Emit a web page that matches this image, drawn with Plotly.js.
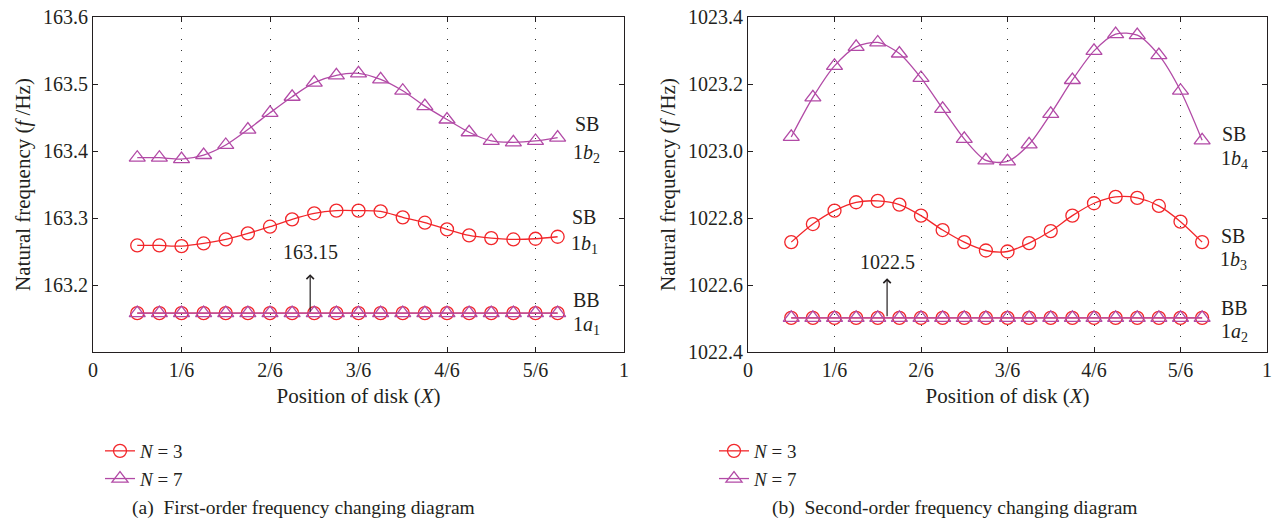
<!DOCTYPE html>
<html>
<head>
<meta charset="utf-8">
<script src="https://cdn.plot.ly/plotly-3.0.1.min.js"></script>
<style>html,body{margin:0;padding:0;background:#fff;}#chart{width:1272px;height:525px;}</style>
</head>
<body>
<div id="chart"></div>
<script>
// Disk positions (fraction of shaft length)
const xPos = [2/24,3/24,4/24,5/24,6/24,7/24,8/24,9/24,10/24,11/24,12/24,13/24,14/24,15/24,16/24,17/24,18/24,19/24,20/24,21/24];
const xTickVals = [0,1/6,2/6,3/6,4/6,5/6,1];
const xTickText = ["0","1/6","2/6","3/6","4/6","5/6","1"];

// (a) First-order
const a_N3_SB = [163.259,163.259,163.258,163.262,163.268,163.277,163.287,163.298,163.307,163.311,163.311,163.310,163.301,163.293,163.283,163.274,163.270,163.268,163.269,163.272];
const a_N7_SB = [163.390,163.390,163.388,163.394,163.409,163.432,163.457,163.481,163.502,163.513,163.516,163.507,163.490,163.467,163.447,163.428,163.415,163.413,163.415,163.420];
const a_N3_BB = [163.158,163.158,163.158,163.158,163.158,163.158,163.158,163.158,163.158,163.158,163.158,163.158,163.158,163.158,163.158,163.158,163.158,163.158,163.158,163.158];
const a_N7_BB = [163.158,163.158,163.158,163.158,163.158,163.158,163.158,163.158,163.158,163.158,163.158,163.158,163.158,163.158,163.158,163.158,163.158,163.158,163.158,163.158];
const a_yTicks = [163.2,163.3,163.4,163.5,163.6];

// (b) Second-order
const b_N3_SB = [1022.728,1022.782,1022.822,1022.847,1022.851,1022.840,1022.807,1022.764,1022.728,1022.703,1022.700,1022.725,1022.761,1022.807,1022.844,1022.863,1022.860,1022.836,1022.789,1022.728];
const b_N7_SB = [1023.042,1023.160,1023.254,1023.311,1023.324,1023.291,1023.218,1023.126,1023.036,1022.972,1022.969,1023.020,1023.111,1023.212,1023.299,1023.349,1023.346,1023.286,1023.180,1023.032];
const b_N3_BB = [1022.502,1022.502,1022.502,1022.502,1022.502,1022.502,1022.502,1022.502,1022.502,1022.502,1022.502,1022.502,1022.502,1022.502,1022.502,1022.502,1022.502,1022.502,1022.502,1022.502];
const b_N7_BB = [1022.502,1022.502,1022.502,1022.502,1022.502,1022.502,1022.502,1022.502,1022.502,1022.502,1022.502,1022.502,1022.502,1022.502,1022.502,1022.502,1022.502,1022.502,1022.502,1022.502];
const b_yTicks = [1022.4,1022.6,1022.8,1023.0,1023.2,1023.4];

const RED = '#f2262a';
const MAG = '#b24aa6';
const INK = '#231f20';
const FONT = 'Liberation Serif';

function tr(y, color, sym, xa, ya, name, show, leg, grp) {
  return {
    x: xPos, y: y, xaxis: xa, yaxis: ya, type: 'scatter', mode: 'lines+markers',
    name: name, showlegend: show, legend: leg, legendgroup: grp,
    line: {color: color, width: 1.3, shape: 'spline', smoothing: 0.8},
    marker: {symbol: sym, size: sym === 'circle-open' ? 13 : 14, color: color, line: {width: 1.3, color: color}}
  };
}

const data = [
  tr(a_N3_SB, RED, 'circle-open', 'x', 'y', '<i>N</i> = 3', true, 'legend', 'a3'),
  tr(a_N3_BB, RED, 'circle-open', 'x', 'y', '<i>N</i> = 3', false, 'legend', 'a3'),
  tr(a_N7_SB, MAG, 'triangle-up-open', 'x', 'y', '<i>N</i> = 7', true, 'legend', 'a7'),
  tr(a_N7_BB, MAG, 'triangle-up-open', 'x', 'y', '<i>N</i> = 7', false, 'legend', 'a7'),
  tr(b_N3_SB, RED, 'circle-open', 'x2', 'y2', '<i>N</i> = 3', true, 'legend2', 'b3'),
  tr(b_N3_BB, RED, 'circle-open', 'x2', 'y2', '<i>N</i> = 3', false, 'legend2', 'b3'),
  tr(b_N7_SB, MAG, 'triangle-up-open', 'x2', 'y2', '<i>N</i> = 7', true, 'legend2', 'b7'),
  tr(b_N7_BB, MAG, 'triangle-up-open', 'x2', 'y2', '<i>N</i> = 7', false, 'legend2', 'b7')
];

function xAxis(dom, anchor) {
  return {
    domain: dom, anchor: anchor, range: [0, 1], tickvals: xTickVals, ticktext: xTickText,
    ticks: 'inside', ticklen: 5, tickcolor: INK, showline: true, linecolor: INK, linewidth: 1, mirror: 'ticks',
    showgrid: true, gridcolor: '#333', gridwidth: 1, griddash: '1px,10px', zeroline: false,
    tickfont: {family: FONT, size: 20, color: INK},
    title: {text: 'Position of disk (<i>X</i>)', font: {family: FONT, size: 21, color: INK}, standoff: 8}
  };
}
function yAxis(dom, anchor, range, ticks, fmt) {
  return {
    domain: dom, anchor: anchor, range: range, tickvals: ticks, tickformat: fmt,
    ticks: 'inside', ticklen: 5, tickcolor: INK, showline: true, linecolor: INK, linewidth: 1, mirror: 'ticks',
    showgrid: false, zeroline: false,
    tickfont: {family: FONT, size: 20, color: INK},
    title: {text: 'Natural frequency (<i>f</i> /Hz)', font: {family: FONT, size: 21, color: INK}, standoff: 6}
  };
}

function lbl(text, x, y, xr, yr) {
  return {text: text, x: x, y: y, xref: xr, yref: yr, showarrow: false, xanchor: 'center', yanchor: 'middle',
          font: {family: FONT, size: 20, color: INK}};
}

const annotations = [
  lbl('SB', 0.93, 163.44, 'x', 'y'),
  lbl('1<i>b</i><sub>2</sub>', 0.93, 163.397, 'x', 'y'),
  lbl('SB', 0.925, 163.301, 'x', 'y'),
  lbl('1<i>b</i><sub>1</sub>', 0.925, 163.261, 'x', 'y'),
  lbl('BB', 0.93, 163.177, 'x', 'y'),
  lbl('1<i>a</i><sub>1</sub>', 0.93, 163.139, 'x', 'y'),
  lbl('163.15', 0.409, 163.25, 'x', 'y'),
  {text: '', x: 0.409, y: 163.216, ax: 0.409, ay: 163.158, xref: 'x', yref: 'y', axref: 'x', ayref: 'y',
   showarrow: true, arrowhead: 4, arrowsize: 1.2, arrowwidth: 1.2, arrowcolor: INK, standoff: 0, startstandoff: 0},

  lbl('SB', 0.937, 1023.05, 'x2', 'y2'),
  lbl('1<i>b</i><sub>4</sub>', 0.937, 1022.976, 'x2', 'y2'),
  lbl('SB', 0.935, 1022.745, 'x2', 'y2'),
  lbl('1<i>b</i><sub>3</sub>', 0.935, 1022.673, 'x2', 'y2'),
  lbl('BB', 0.937, 1022.532, 'x2', 'y2'),
  lbl('1<i>a</i><sub>2</sub>', 0.937, 1022.458, 'x2', 'y2'),
  lbl('1022.5', 0.268, 1022.67, 'x2', 'y2'),
  {text: '', x: 0.268, y: 1022.62, ax: 0.268, ay: 1022.502, xref: 'x2', yref: 'y2', axref: 'x2', ayref: 'y2',
   showarrow: true, arrowhead: 4, arrowsize: 1.2, arrowwidth: 1.2, arrowcolor: INK, standoff: 0, startstandoff: 0},

  {text: '(a)&#160;&#160;First-order frequency changing diagram', x: 130/1272, y: 1 - 508/525, xref: 'paper', yref: 'paper',
   showarrow: false, xanchor: 'left', yanchor: 'middle', font: {family: FONT, size: 19.5, color: INK}},
  {text: '(b)&#160;&#160;Second-order frequency changing diagram', x: 770/1272, y: 1 - 508/525, xref: 'paper', yref: 'paper',
   showarrow: false, xanchor: 'left', yanchor: 'middle', font: {family: FONT, size: 19.5, color: INK}}
];

const legendBase = {
  orientation: 'v', yanchor: 'top', xanchor: 'left', bgcolor: 'rgba(0,0,0,0)', borderwidth: 0,
  font: {family: FONT, size: 19, color: INK}, traceorder: 'grouped', tracegroupgap: 0, itemwidth: 30
};

const layout = {
  width: 1272, height: 525, paper_bgcolor: '#fff', plot_bgcolor: '#fff',
  font: {family: FONT, color: INK},
  margin: {l: 0, r: 0, t: 0, b: 0},
  showlegend: true,
  xaxis: xAxis([93/1272, 624/1272], 'y'),
  yaxis: yAxis([1 - 352/525, 1 - 17/525], 'x', [163.1, 163.6], a_yTicks, '.1f'),
  xaxis2: xAxis([748/1272, 1267/1272], 'y2'),
  yaxis2: yAxis([1 - 352/525, 1 - 17/525], 'x2', [1022.4, 1023.4], b_yTicks, '.1f'),
  legend: Object.assign({}, legendBase, {x: 100/1272, y: 1 - 432/525}),
  legend2: Object.assign({}, legendBase, {x: 714/1272, y: 1 - 432/525}),
  annotations: annotations
};

Plotly.newPlot('chart', data, layout, {staticPlot: true, displayModeBar: false});
</script>
</body>
</html>
